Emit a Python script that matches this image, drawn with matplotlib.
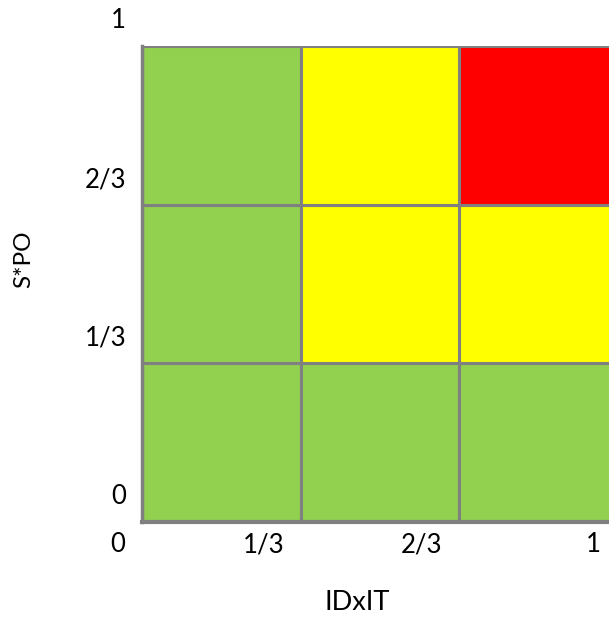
import matplotlib
matplotlib.use('Agg')
import matplotlib.pyplot as plt
import numpy as np

# 数据: 3x3 风险矩阵 (行从下到上, 列从左到右)
levels = ['green', 'yellow', 'red']
cell_levels = [
    ['green', 'green', 'green'],    # S*PO 0-1/3
    ['green', 'yellow', 'yellow'],  # S*PO 1/3-2/3
    ['green', 'yellow', 'red'],     # S*PO 2/3-1
]
level_colors = {'green': '#92D050', 'yellow': '#FFFF00', 'red': '#FF0000'}
tick_values = [0, 1/3, 2/3, 1]
tick_labels = ['0', '1/3', '2/3', '1']
x_title = 'IDxIT'
y_title = 'S*PO'

plt.rcParams['font.family'] = ['Lato', 'DejaVu Sans']

W, H, DPI = 609, 617, 100
fig = plt.figure(figsize=(W / DPI, H / DPI), dpi=DPI)

# 坐标区: 左 142px, 右边被截断, 上 46px, 下 522px
left, right, top, bottom = 142, 609, 46, 522
ax = fig.add_axes([left / W, 1 - bottom / H, (right - left) / W, (bottom - top) / H])
cell_px = (bottom - top) / 3
ax.set_xlim(0, (right - left) / (3 * cell_px))
ax.set_ylim(0, 1)

n = len(cell_levels)
for i, row in enumerate(cell_levels):
    for j, lv in enumerate(row):
        ax.add_patch(plt.Rectangle((j / n, i / n), 1 / n, 1 / n,
                                   facecolor=level_colors[lv],
                                   edgecolor='#808080', linewidth=2.2))

for s in ax.spines.values():
    s.set_visible(False)
ax.plot([0, 0], [0, 1], color='#808080', lw=2.5, clip_on=False, zorder=5)
ax.plot([0, 1.1], [0, 0], color='#808080', lw=3, clip_on=False, zorder=5)
ax.set_xticks([])
ax.set_yticks([])

fs = 18.5
# 标签相对网格线偏移 (原图就是这样错位的)
for v, lab in zip(tick_values, tick_labels):
    ax.annotate(lab, xy=(0, v), xycoords='data', xytext=(-11.5, 18),
                textcoords='offset points', ha='right', va='center',
                fontsize=fs, annotation_clip=False)
    ax.annotate(lab, xy=(v, 0), xycoords='data', xytext=(-12, -16.5),
                textcoords='offset points', ha='right', va='center',
                fontsize=fs, annotation_clip=False)

fig.text(357 / W, 1 - 602 / H, x_title, ha='center', va='center', fontsize=19.5)
fig.text(24 / W, 1 - 259 / H, y_title, ha='center', va='center', fontsize=17.5,
         rotation=90)

fig.savefig('out.png', dpi=DPI)
